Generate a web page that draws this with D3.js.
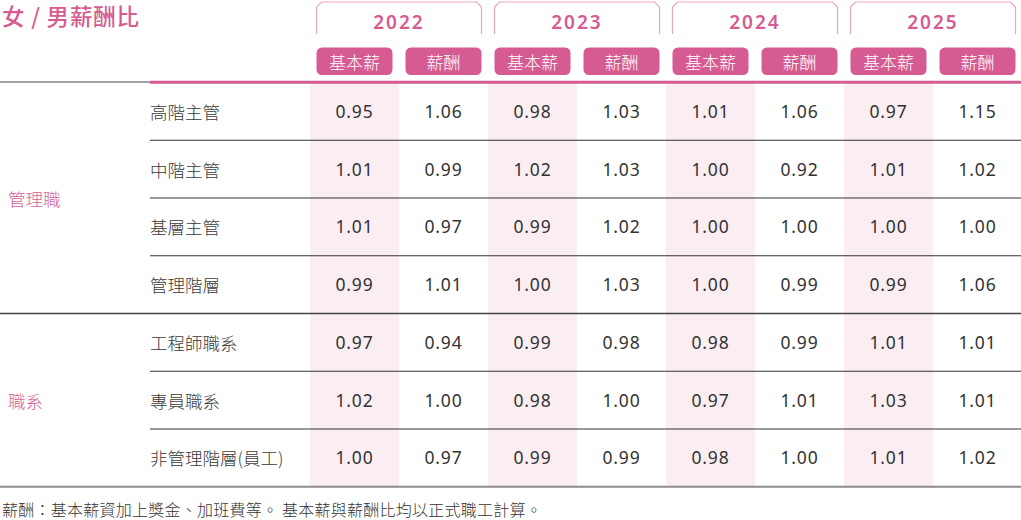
<!DOCTYPE html>
<html>
<head>
<meta charset="utf-8">
<script src="https://cdn.jsdelivr.net/npm/d3@7/dist/d3.min.js"></script>
<style>
  html, body { margin: 0; padding: 0; background: #fff; }
  svg { display: block; }
</style>
</head>
<body>
<svg id="chart" width="1021" height="520"></svg>
<script>
// ---------- DATA ----------
const title = "女 / 男薪酬比";
const years = ["2022", "2023", "2024", "2025"];
const subHeaders = ["基本薪", "薪酬"];
const groupNames = ["管理職", "職系"];
const rowLabels = ["高階主管", "中階主管", "基層主管", "管理階層", "工程師職系", "專員職系", "非管理階層(員工)"];
const rowGroup = [0, 0, 0, 0, 1, 1, 1];

const base2022 = [0.95, 1.01, 1.01, 0.99, 0.97, 1.02, 1.00];
const pay2022  = [1.06, 0.99, 0.97, 1.01, 0.94, 1.00, 0.97];
const base2023 = [0.98, 1.02, 0.99, 1.00, 0.99, 0.98, 0.99];
const pay2023  = [1.03, 1.03, 1.02, 1.03, 0.98, 1.00, 0.99];
const base2024 = [1.01, 1.00, 1.00, 1.00, 0.98, 0.97, 0.98];
const pay2024  = [1.06, 0.92, 1.00, 0.99, 0.99, 1.01, 1.00];
const base2025 = [0.97, 1.01, 1.00, 0.99, 1.01, 1.03, 1.01];
const pay2025  = [1.15, 1.02, 1.00, 1.06, 1.01, 1.01, 1.02];

const footnote = "薪酬：基本薪資加上獎金、加班費等。 基本薪與薪酬比均以正式職工計算。";

// ---------- BUILD ----------
const seriesByYear = { "2022": [base2022, pay2022], "2023": [base2023, pay2023], "2024": [base2024, pay2024], "2025": [base2025, pay2025] };
const columns = [];
years.forEach(y => subHeaders.forEach((s, i) => columns.push({ key: y + "-" + i, year: y, sub: s, kind: i, values: seriesByYear[y][i] })));

const PINK = "#d55b92";
const CJK = "'Noto Sans CJK TC', 'Noto Sans CJK SC', sans-serif";
const NUM = "'Noto Sans', 'Noto Sans CJK TC', sans-serif";

const svg = d3.select("#chart");
const W = 1021;

const x = d3.scaleBand().domain(columns.map(c => c.key)).range([310, 1022]);
const yRow = d3.scaleBand().domain(d3.range(rowLabels.length)).range([82.5, 486.75]);
const labelX = 150;

// column shading for 基本薪 columns
svg.append("g").selectAll("rect").data(columns.filter(c => c.kind === 0)).join("rect")
  .attr("x", d => x(d.key)).attr("y", 83)
  .attr("width", x.bandwidth()).attr("height", 486.75 - 83)
  .attr("fill", "#fbeef3");

// title
svg.append("text").attr("x", 2).attr("y", 25)
  .attr("font-family", CJK).attr("font-size", 22.5).attr("font-weight", 500)
  .attr("letter-spacing", 0.8)
  .attr("fill", PINK).text(title);

// year tabs
const tabPad = x.bandwidth() / 2 - 38;
const yearG = svg.append("g").selectAll("g").data(years).join("g");
yearG.append("path")
  .attr("d", yv => {
    const x0 = x(yv + "-0") + tabPad, x1 = x(yv + "-1") + x.bandwidth() - tabPad;
    const p = d3.path();
    p.moveTo(x0, 34); p.lineTo(x0, 7); p.lineTo(x0 + 5, 2); p.lineTo(x1 - 5, 2); p.lineTo(x1, 7); p.lineTo(x1, 34);
    return p.toString();
  })
  .attr("fill", "none").attr("stroke", "#e8a6c3").attr("stroke-width", 1.2);
yearG.append("text")
  .attr("x", yv => x(yv + "-0") + x.bandwidth())
  .attr("y", 29).attr("text-anchor", "middle")
  .attr("font-family", NUM).attr("font-size", 19).attr("font-weight", 600)
  .attr("letter-spacing", 2).attr("fill", PINK).text(yv => yv);

// sub-header pills
const pillG = svg.append("g").selectAll("g").data(columns).join("g");
pillG.append("rect")
  .attr("x", d => x(d.key) + tabPad).attr("y", 47.5)
  .attr("width", 76).attr("height", 27.5).attr("rx", 5.5)
  .attr("fill", PINK);
pillG.append("text")
  .attr("x", d => x(d.key) + x.bandwidth() / 2).attr("y", 61.5)
  .attr("dominant-baseline", "central").attr("text-anchor", "middle")
  .attr("font-family", CJK).attr("font-size", 17).attr("font-weight", 300)
  .attr("fill", "#fff").text(d => d.sub);

// header underline
svg.append("line").attr("x1", 0).attr("x2", labelX).attr("y1", 82).attr("y2", 82)
  .attr("stroke", "#444").attr("stroke-width", 1);
svg.append("line").attr("x1", labelX).attr("x2", W).attr("y1", 82.2).attr("y2", 82.2)
  .attr("stroke", PINK).attr("stroke-width", 3);

// row separators
const seps = d3.range(1, rowLabels.length).map(i => ({ i, y: yRow(i), full: rowGroup[i] !== rowGroup[i - 1] }));
svg.append("g").selectAll("line").data(seps).join("line")
  .attr("x1", d => d.full ? 0 : labelX).attr("x2", W)
  .attr("y1", d => d.y).attr("y2", d => d.y)
  .attr("stroke", d => d.full ? "#444" : "#333").attr("stroke-width", d => d.full ? 1.4 : 1);
svg.append("line").attr("x1", 0).attr("x2", W)
  .attr("y1", yRow.range()[1]).attr("y2", yRow.range()[1])
  .attr("stroke", "#8c8c8c").attr("stroke-width", 2);

// group labels
const groupSpans = groupNames.map((g, gi) => {
  const idx = rowGroup.map((v, i) => v === gi ? i : -1).filter(i => i >= 0);
  return { name: g, y0: yRow(idx[0]), y1: yRow(idx[idx.length - 1]) + yRow.bandwidth() };
});
svg.append("g").selectAll("text").data(groupSpans).join("text")
  .attr("x", 8).attr("y", d => (d.y0 + d.y1) / 2)
  .attr("dominant-baseline", "central")
  .attr("font-family", CJK).attr("font-size", 17.5).attr("font-weight", 300)
  .attr("fill", "#d4609a").text(d => d.name);

// row labels
svg.append("g").selectAll("text").data(rowLabels).join("text")
  .attr("x", labelX).attr("y", (d, i) => yRow(i) + yRow.bandwidth() / 2)
  .attr("dominant-baseline", "central")
  .attr("font-family", CJK).attr("font-size", 17.5).attr("font-weight", 300)
  .attr("fill", "#3a3a3a").text(d => d);

// values
const cells = [];
columns.forEach(c => c.values.forEach((v, i) => cells.push({ col: c.key, row: i, v })));
svg.append("g").selectAll("text").data(cells).join("text")
  .attr("x", d => x(d.col) + x.bandwidth() / 2)
  .attr("y", d => yRow(d.row) + yRow.bandwidth() / 2 + 6.5)
  .attr("text-anchor", "middle")
  .attr("font-family", NUM).attr("font-size", 17.5).attr("font-weight", 400)
  .attr("letter-spacing", 0.8)
  .attr("fill", "#333").text(d => d3.format(".2f")(d.v));

// footnote
svg.append("text").attr("x", 2).attr("y", 515.5)
  .attr("font-family", CJK).attr("font-size", 16).attr("font-weight", 300)
  .attr("letter-spacing", 0.25)
  .attr("fill", "#333").text(footnote);
</script>
</body>
</html>
